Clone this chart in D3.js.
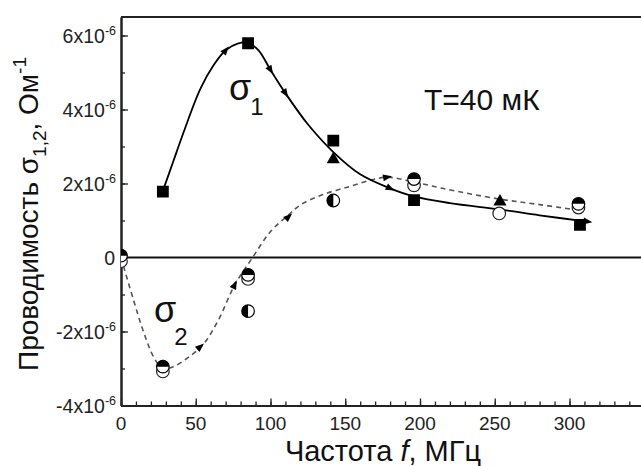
<!DOCTYPE html>
<html>
<head>
<meta charset="utf-8">
<script src="https://cdn.jsdelivr.net/npm/d3@7/dist/d3.min.js"></script>
<style>
  html, body { margin: 0; padding: 0; background: #fff; }
  svg { display: block; font-family: "Liberation Sans", Arial, sans-serif; }
</style>
</head>
<body>
<svg id="chart" width="641" height="466"></svg>
<script>
// Conductivity values are in units of 10^-6 Ohm^-1, frequency in MHz.

// sigma_1, measured (filled squares)
const sigma1Squares = [[28, 1.78], [85, 5.79], [142, 3.16], [196, 1.55], [307, 0.88]];
// sigma_1, second run (filled triangles)
const sigma1Triangles = [[142, 2.65], [253.5, 1.51]];
// sigma_1, calculated curve (solid line)
const sigma1Curve = [[28, 1.8], [35, 2.6], [42, 3.4], [53, 4.55], [62, 5.2], [70, 5.6], [78, 5.78],
  [85, 5.8], [92, 5.6], [100, 5.07], [110, 4.44], [125, 3.6], [142, 2.85], [160, 2.25],
  [180, 1.87], [196, 1.65], [220, 1.47], [253, 1.3], [280, 1.14], [312, 0.97]];
// arrowheads drawn on the sigma_1 curve
const sigma1Arrows = [[70, 5.6], [100, 5.07], [110, 4.44], [180, 1.87], [312, 0.97]];

// sigma_2, measured (half-filled, open and left-filled circles)
const sigma2TopHalf = [[0, 0.05], [28, -2.95], [85, -0.47], [196, 2.12], [306, 1.45]];
const sigma2Open = [[0, -0.1], [28, -3.08], [85, -0.58], [196, 1.95], [253, 1.19], [306, 1.35]];
const sigma2LeftHalf = [[85, -1.45], [142, 1.54]];
// sigma_2, calculated curve (dashed line)
const sigma2Curve = [[0, 0], [8, -1.1], [15, -2.0], [22, -2.7], [28, -3.0], [35, -2.95], [45, -2.7],
  [55, -2.35], [65, -1.7], [76, -0.75], [88, 0], [100, 0.7], [112, 1.15], [120, 1.42],
  [135, 1.7], [153, 1.92], [168, 2.1], [178, 2.17], [195, 2.05], [215, 1.87], [253, 1.58],
  [280, 1.43], [306, 1.28]];
const sigma2Arrows = [[28, -2.9], [53, -2.41], [76, -0.74], [112, 1.1], [178, 2.17]];

// axes
const xMajorTicks = [0, 50, 100, 150, 200, 250, 300, 350];
const xTickLabels = [0, 50, 100, 150, 200, 250, 300];
const xMinorTicks = d3.range(0, 351, 10);
const yMajorTicks = [-4, -2, 0, 2, 4, 6];
const yMinorTicks = [-4, -3, -2, -1, 0, 1, 2, 3, 4, 5, 6];
const yTickMantissa = { "-4": "-4x10", "-2": "-2x10", "0": "0", "2": "2x10", "4": "4x10", "6": "6x10" };
const yTickExponent = "-6";

const svg = d3.select("#chart");
const plotLeft = 121, plotTop = 17, plotBottom = 405.5;
const x = d3.scaleLinear().domain([0, 350]).range([plotLeft, plotLeft + 350 * 1.495]);
const y = d3.scaleLinear().domain([-4, 6.5]).range([plotBottom, plotTop]);
const axisColor = "#222";

svg.append("defs").append("clipPath").attr("id", "plot-area")
  .append("rect").attr("x", plotLeft).attr("y", plotTop)
  .attr("width", 641 - plotLeft).attr("height", plotBottom - plotTop);

// frame: top line
svg.append("line").attr("x1", plotLeft).attr("x2", 641).attr("y1", y(6.5)).attr("y2", y(6.5))
  .attr("stroke", axisColor).attr("stroke-width", 2);
// zero line
svg.append("line").attr("x1", plotLeft).attr("x2", 641).attr("y1", y(0)).attr("y2", y(0))
  .attr("stroke", "#111").attr("stroke-width", 2);

// bottom axis with inward ticks
const gx = svg.append("g").attr("transform", `translate(0,${plotBottom})`);
gx.call(d3.axisBottom(x).tickValues(xMinorTicks).tickSizeInner(-4).tickSizeOuter(0).tickFormat(""));
gx.append("g").call(d3.axisBottom(x).tickValues(xMajorTicks).tickSizeInner(-7).tickSizeOuter(0).tickFormat(""));
gx.selectAll("path.domain").attr("stroke", axisColor).attr("stroke-width", 2);
gx.selectAll(".tick line").attr("stroke", axisColor).attr("stroke-width", 1.3);
gx.selectAll(".tick text").remove();
svg.append("g").selectAll("text").data(xTickLabels).join("text")
  .attr("x", d => x(d)).attr("y", 430).attr("text-anchor", "middle")
  .attr("font-size", 19).attr("fill", "#222").text(d => d);

// left axis with inward ticks
const gy = svg.append("g").attr("transform", `translate(${plotLeft},0)`);
gy.call(d3.axisLeft(y).tickValues(yMinorTicks).tickSizeInner(-4).tickSizeOuter(0).tickFormat(""));
gy.append("g").call(d3.axisLeft(y).tickValues(yMajorTicks).tickSizeInner(-7).tickSizeOuter(0).tickFormat(""));
gy.selectAll("path.domain").attr("stroke", axisColor).attr("stroke-width", 2);
gy.selectAll(".tick line").attr("stroke", axisColor).attr("stroke-width", 1.3);

const yl = svg.append("g").selectAll("text").data(yMajorTicks).join("text")
  .attr("x", d => d === 0 ? 115 : 116).attr("y", d => y(d) + 7.5)
  .attr("text-anchor", "end").attr("font-size", 19.5).attr("fill", "#222");
yl.append("tspan").text(d => yTickMantissa[d]);
yl.filter(d => d !== 0).append("tspan").attr("dy", -8.5).attr("font-size", 12.5).text(yTickExponent);

// data layer, clipped to the plot area
const plot = svg.append("g").attr("clip-path", "url(#plot-area)");

// curves
const line = d3.line().x(d => x(d[0])).y(d => y(d[1])).curve(d3.curveCatmullRom.alpha(0.5));
plot.append("path").datum(sigma2Curve).attr("d", line).attr("fill", "none")
  .attr("stroke", "#555").attr("stroke-width", 1.6).attr("stroke-dasharray", "5,4");
plot.append("path").datum(sigma1Curve).attr("d", line).attr("fill", "none")
  .attr("stroke", "#000").attr("stroke-width", 1.8);

// arrowheads oriented along their curve
function arrowAngle(curve, f) {
  let i = curve.findIndex(p => p[0] >= f);
  if (i <= 0) i = 1;
  const a = curve[i - 1], b = curve[i];
  return Math.atan2(y(b[1]) - y(a[1]), x(b[0]) - x(a[0])) * 180 / Math.PI;
}
function drawArrows(points, curve, color) {
  plot.append("g").selectAll("path").data(points).join("path")
    .attr("d", "M5,0L-4,-3.5L-4,3.5Z")
    .attr("transform", d => `translate(${x(d[0])},${y(d[1])}) rotate(${arrowAngle(curve, d[0])})`)
    .attr("fill", color);
}
drawArrows(sigma2Arrows, sigma2Curve, "#000");
drawArrows(sigma1Arrows, sigma1Curve, "#000");

// circle markers for sigma_2
const r = 6.3;
plot.append("g").selectAll("circle").data(sigma2Open).join("circle")
  .attr("cx", d => x(d[0])).attr("cy", d => y(d[1])).attr("r", r)
  .attr("fill", "#fff").attr("stroke", "#222").attr("stroke-width", 1.2);
const th = plot.append("g").selectAll("g").data(sigma2TopHalf).join("g")
  .attr("transform", d => `translate(${x(d[0])},${y(d[1])})`);
th.append("circle").attr("r", r).attr("fill", "#fff").attr("stroke", "#000").attr("stroke-width", 1.2);
th.append("path").attr("d", `M${-r},0A${r},${r} 0 0 1 ${r},0Z`).attr("fill", "#000");
const lh = plot.append("g").selectAll("g").data(sigma2LeftHalf).join("g")
  .attr("transform", d => `translate(${x(d[0])},${y(d[1])})`);
lh.append("circle").attr("r", r).attr("fill", "#fff").attr("stroke", "#000").attr("stroke-width", 1.2);
lh.append("path").attr("d", `M0,${-r}A${r},${r} 0 0 0 0,${r}Z`).attr("fill", "#000");

// sigma_1 markers
plot.append("g").selectAll("path").data(sigma1Triangles).join("path")
  .attr("d", d3.symbol(d3.symbolTriangle, 75))
  .attr("transform", d => `translate(${x(d[0])},${y(d[1])})`).attr("fill", "#000");
plot.append("g").selectAll("path").data(sigma1Squares).join("path")
  .attr("d", d3.symbol(d3.symbolSquare, 140))
  .attr("transform", d => `translate(${x(d[0])},${y(d[1])})`).attr("fill", "#000");

// in-plot labels
const s1 = svg.append("text").attr("x", 229).attr("y", 100).attr("font-size", 36).attr("fill", "#111");
s1.append("tspan").text("σ");
s1.append("tspan").attr("dy", 15).attr("dx", -1).attr("font-size", 24).text("1");
const s2 = svg.append("text").attr("x", 154).attr("y", 322).attr("font-size", 36).attr("fill", "#111");
s2.append("tspan").text("σ");
s2.append("tspan").attr("dy", 23).attr("dx", -2).attr("font-size", 24).text("2");
svg.append("text").attr("x", 424).attr("y", 110).attr("font-size", 30).attr("fill", "#111").text("T=40 мК");

// axis titles
const xt = svg.append("text").attr("x", 383).attr("y", 461).attr("text-anchor", "middle")
  .attr("font-size", 29).attr("fill", "#111");
xt.append("tspan").text("Частота ");
xt.append("tspan").attr("font-style", "italic").text("f");
xt.append("tspan").text(", МГц");

const yt = svg.append("text").attr("transform", "translate(38,214) rotate(-90)")
  .attr("text-anchor", "middle").attr("font-size", 28).attr("fill", "#111");
yt.append("tspan").text("Проводимость σ");
yt.append("tspan").attr("dy", 8).attr("font-size", 19).text("1,2");
yt.append("tspan").attr("dy", -8).text(", Ом");
yt.append("tspan").attr("dy", -12).attr("font-size", 19).text("-1");
</script>
</body>
</html>
